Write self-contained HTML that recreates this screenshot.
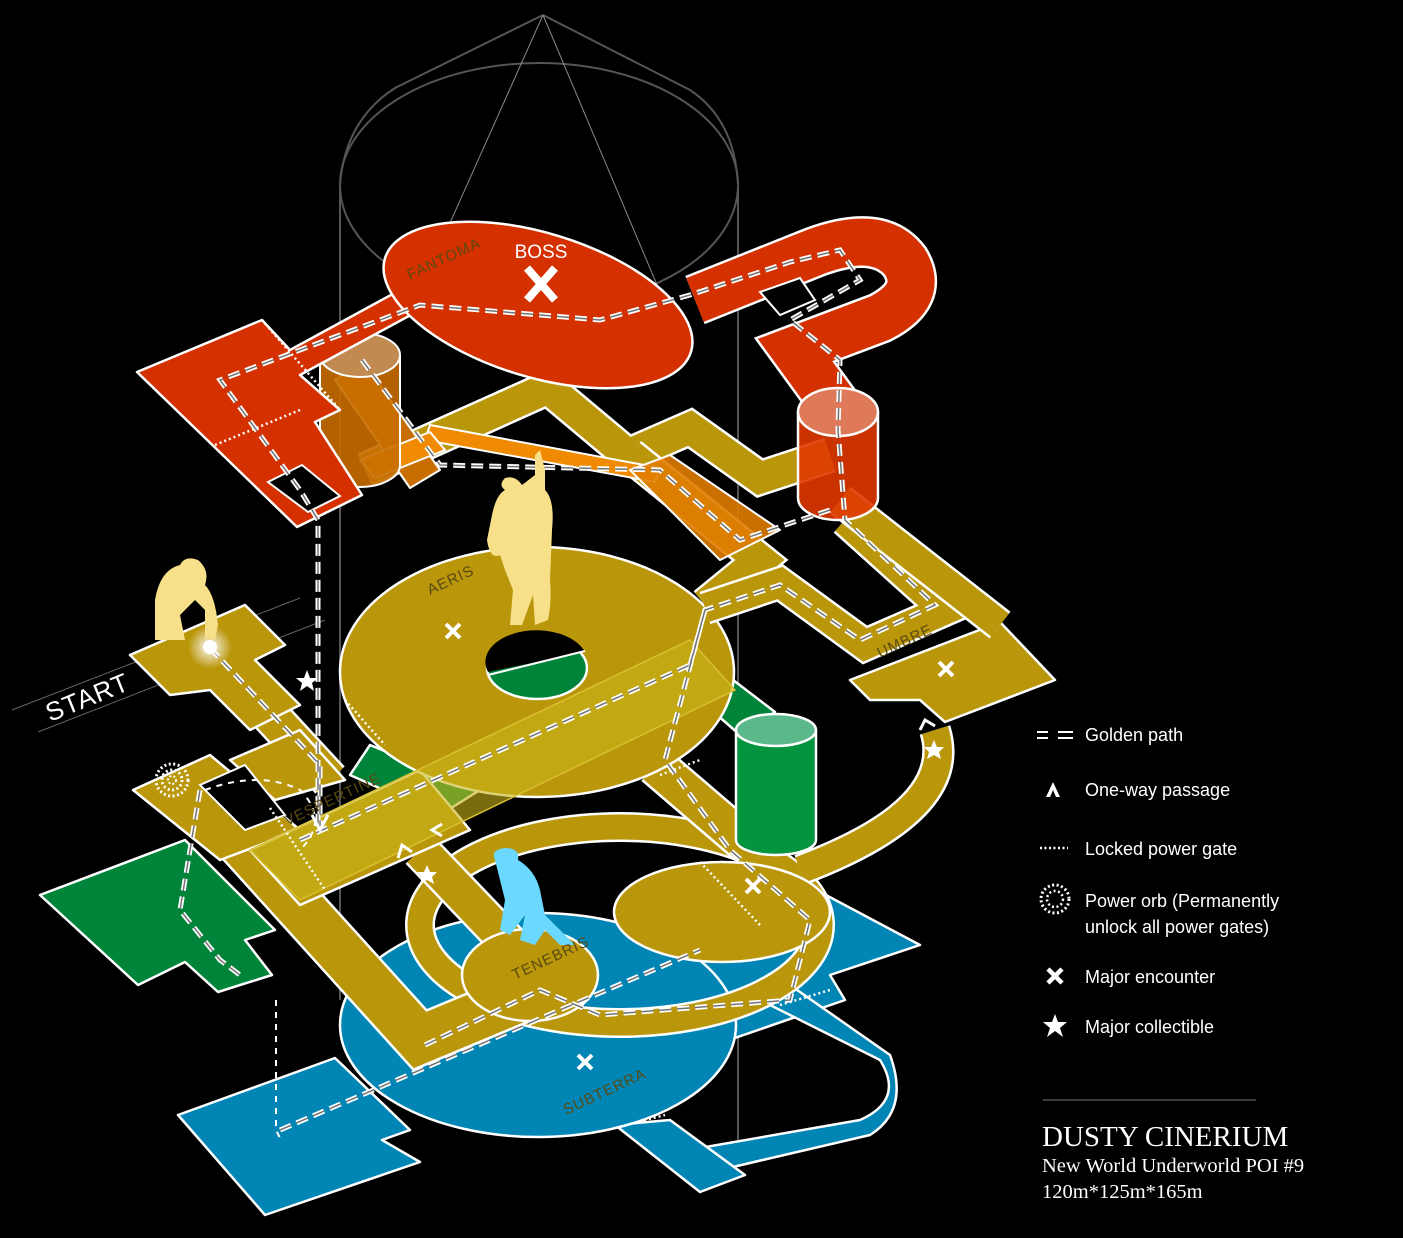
<!DOCTYPE html>
<html><head><meta charset="utf-8"><style>
html,body{margin:0;padding:0;background:#000;}
svg{display:block}
.lbl{font-family:"Liberation Sans","DejaVu Sans",sans-serif;fill:#5a4a10;font-size:15px;letter-spacing:1px}
.leg{font-family:"Liberation Sans","DejaVu Sans",sans-serif;fill:#fff;font-size:18px}
.ttl{font-family:"Liberation Serif",serif;fill:#fff}
</style></head><body>
<svg width="1403" height="1238" viewBox="0 0 1403 1238" xmlns="http://www.w3.org/2000/svg">
<defs>
<radialGradient id="glow"><stop offset="0" stop-color="#fff" stop-opacity="1"/><stop offset="0.4" stop-color="#fff" stop-opacity="0.6"/><stop offset="1" stop-color="#fff" stop-opacity="0"/></radialGradient>
</defs>
<rect width="1403" height="1238" fill="#000"/>

<g stroke="#555" fill="none" stroke-width="2">
<path d="M543,15 L395,88 Q345,120 340,185 L340,1000"/>
<path d="M543,15 L690,90 Q735,120 738,185 L738,1140"/>
<ellipse cx="539" cy="185" rx="199" ry="122"/>
</g>
<g stroke="#888" stroke-width="1" fill="none">
<line x1="543" y1="15" x2="420" y2="290"/>
<line x1="543" y1="15" x2="660" y2="292"/>
</g>

<line x1="12" y1="710" x2="300" y2="598" stroke="#666" stroke-width="1"/>
<line x1="38" y1="732" x2="325" y2="620" stroke="#666" stroke-width="1"/>
<text x="50" y="722" transform="rotate(-22 50 722)" font-family="Liberation Sans,sans-serif" font-size="26" fill="#fff" letter-spacing="1">START</text>

<!-- BLUE -->
<g fill="#0085b5" stroke="#fff" stroke-width="2.5" stroke-linejoin="round">
<path d="M178,1115 L335,1058 L410,1130 L382,1140 L420,1162 L265,1215 Z"/>
<path d="M760,860 L920,945 L830,975 L845,1000 L700,1050 L640,1060 Z"/>
<path d="M760,1000 L880,1060 Q905,1100 860,1120 L700,1148 L720,1170 L870,1135 Q910,1110 890,1055 L790,985 Z"/>
<path d="M615,1125 L700,1192 L745,1175 L670,1120 Z"/>
<ellipse cx="538" cy="1025" rx="198" ry="112"/>
</g>
<g stroke="#fff" stroke-width="2.5" stroke-dasharray="2 3" fill="none">
<line x1="780" y1="1005" x2="830" y2="990"/><line x1="615" y1="1128" x2="665" y2="1115"/>
</g>

<!-- GREEN -->
<g fill="#00843a" stroke="#fff" stroke-width="2.5" stroke-linejoin="round">
<path d="M40,895 L185,840 L275,930 L245,940 L272,975 L218,992 L185,962 L138,985 Z"/>
<path d="M370,745 L480,790 L440,815 L350,775 Z"/>
<path d="M720,670 L775,712 L740,735 L700,700 Z"/>
</g>

<!-- GOLD LOWER -->
<g fill="none" stroke-linejoin="miter" stroke-linecap="butt">
<ellipse cx="620" cy="925" rx="200" ry="98" stroke="#fff" stroke-width="30"/>
<ellipse cx="620" cy="925" rx="200" ry="98" stroke="#b9960a" stroke-width="25"/>
<path d="M800,870 Q960,810 935,730" stroke="#fff" stroke-width="32"/>
<path d="M800,870 Q960,810 935,730" stroke="#b9960a" stroke-width="27"/>
<path d="M185,780 L420,1040 L540,990" stroke="#fff" stroke-width="52"/>
<path d="M185,780 L420,1040 L540,990" stroke="#b9960a" stroke-width="47"/>
<path d="M210,650 L330,780" stroke="#fff" stroke-width="40"/>
<path d="M210,650 L330,780" stroke="#b9960a" stroke-width="35"/>
<path d="M420,850 L525,960" stroke="#fff" stroke-width="40"/>
<path d="M420,850 L525,960" stroke="#b9960a" stroke-width="35"/>
<path d="M655,765 L760,855" stroke="#fff" stroke-width="42"/>
<path d="M655,765 L760,855" stroke="#b9960a" stroke-width="37"/>
</g>
<g fill="#b9960a" stroke="#fff" stroke-width="2.5" stroke-linejoin="round">
<path d="M130,655 L245,605 L285,645 L255,660 L300,705 L250,730 L210,690 L170,695 Z"/>
<path d="M133,790 L210,755 L300,830 L220,860 Z"/>
<path d="M230,760 L300,730 L345,780 L275,800 Z"/>
<path d="M250,850 L420,770 L470,830 L300,905 Z"/>
<ellipse cx="537" cy="672" rx="197" ry="125"/>
<ellipse cx="722" cy="912" rx="108" ry="50"/>
<ellipse cx="530" cy="975" rx="68" ry="46"/>
<path d="M850,680 L1000,622 L1055,680 L945,722 L920,700 L870,700 Z"/>
</g>
<ellipse cx="537" cy="668" rx="50" ry="31" fill="#00843a" stroke="#fff" stroke-width="2.5"/>
<path d="M488,672 A50,31 0 0 1 585,652 Z" fill="#000"/>
<line x1="488" y1="675" x2="585" y2="651" stroke="#fff" stroke-width="2"/>
<path d="M250,850 L690,640 L735,690 L300,900 Z" fill="#c8b418" fill-opacity="0.6" stroke="#d8c030" stroke-width="1.5"/>
<path d="M200,785 L245,765 L285,815 L245,830 Z" fill="#000" stroke="#fff" stroke-width="2"/>

<g stroke="#fff" stroke-width="2.5">
<path d="M736,730 L736,840 A40,15 0 0 0 816,840 L816,730" fill="#03943f"/>
<ellipse cx="776" cy="730" rx="40" ry="16" fill="#5bb88a"/>
</g>

<!-- GOLD UPPER -->
<g fill="none" stroke-linejoin="miter">
<path d="M365,470 L548,388 L628,455 L690,428 L760,478 L830,455" stroke="#fff" stroke-width="36"/>
<path d="M365,470 L548,388 L628,455 L690,428 L760,478 L830,455" stroke="#b9960a" stroke-width="31"/>
<path d="M630,455 L760,560 L705,605" stroke="#fff" stroke-width="36"/>
<path d="M630,455 L760,560 L705,605" stroke="#b9960a" stroke-width="31"/>
<path d="M705,608 L780,583 L865,645 L945,610 L845,520" stroke="#fff" stroke-width="34"/>
<path d="M705,608 L780,583 L865,645 L945,610 L845,520" stroke="#b9960a" stroke-width="29"/>
<path d="M840,500 L1000,625" stroke="#fff" stroke-width="34"/>
<path d="M840,500 L1000,625" stroke="#b9960a" stroke-width="29"/>
</g>

<!-- ORANGE -->
<g stroke="#fff" stroke-width="2" stroke-linejoin="round">
<path d="M362,360 L440,470 L410,488 L335,380 Z" fill="#c86d00"/>
<path d="M430,425 L660,468 L655,482 L425,440 Z" fill="#f08a00"/>
<path d="M630,470 L670,455 L780,530 L720,560 Z" fill="#e07c00" fill-opacity="0.9"/>
<path d="M360,460 L430,432 L445,450 L375,478 Z" fill="#f08a00"/>
<path d="M320,355 L320,465 A40,22 0 0 0 400,465 L400,355" fill="#c86d00" fill-opacity="0.9"/>
<ellipse cx="360" cy="355" rx="40" ry="22" fill="#c08a50"/>
</g>

<!-- RED -->
<g fill="none" stroke-linejoin="miter">
<path d="M695,300 L815,252 Q880,228 905,262 Q925,295 880,318 L795,350 L835,405" stroke="#fff" stroke-width="52"/>
<path d="M695,300 L815,252 Q880,228 905,262 Q925,295 880,318 L795,350 L835,405" stroke="#d43000" stroke-width="47"/>
</g>
<path d="M760,292 L800,278 L815,300 L780,315 Z" fill="#000" stroke="#fff" stroke-width="2"/>
<g fill="#d43000" stroke="#fff" stroke-width="2.5" stroke-linejoin="round">
<path d="M137,372 L262,320 L290,350 L400,290 L420,310 L300,375 L340,410 L315,422 L362,495 L297,527 Z"/>
<ellipse cx="538" cy="305" rx="160" ry="72" transform="rotate(17 538 305)"/>
</g>
<path d="M268,482 L302,465 L340,496 L308,512 Z" fill="#000" stroke="#fff" stroke-width="2"/>
<g stroke="#fff" stroke-width="2.5">
<path d="M798,412 L798,498 A40,22 0 0 0 878,498 L878,412" fill="#e03800" fill-opacity="0.9"/>
<ellipse cx="838" cy="412" rx="40" ry="24" fill="#de7a5a"/>
</g>

<!-- GOLDEN PATH -->
<g fill="none" stroke="#fff" stroke-width="5" stroke-dasharray="12 6">
<path id="gp" d="M210,648 L320,765 L320,830 M300,840 L690,665 M690,665 L705,610 L780,585 L860,640 L935,605 L845,520 L838,430 L840,360 L790,320 L860,280 L840,250 L790,262 L690,295 L600,320 L420,305 L220,380 L300,490 L318,520 L318,830 M200,790 L180,910 L220,960 L240,975 M425,1045 L540,990 L600,1015 L790,1000 L810,920 L730,850 L665,760 L705,610 M280,1130 L700,950 M362,360 L440,465 L660,470 L740,540 L830,510"/>
</g>
<g fill="none" stroke-width="1.5" stroke="#000" stroke-opacity="0.55" stroke-dasharray="12 6">
<use href="#gp"/>
</g>
<g fill="none" stroke="#fff" stroke-width="2" stroke-dasharray="6 6">
<path d="M276,1000 L276,1130 L280,1138"/>
<path d="M205,790 Q260,770 300,790 Q330,820 300,850"/>
</g>

<g stroke="#fff" stroke-width="2.5" stroke-dasharray="2 3" fill="none">
<line x1="215" y1="445" x2="300" y2="410"/>
<line x1="262" y1="320" x2="340" y2="410"/>
<line x1="270" y1="808" x2="325" y2="890"/>
<line x1="345" y1="700" x2="385" y2="745"/>
<line x1="660" y1="775" x2="700" y2="760"/>
<line x1="700" y1="862" x2="760" y2="925"/>
</g>

<g>
<circle cx="172" cy="780" r="16" fill="none" stroke="#fff" stroke-width="3" stroke-dasharray="2 2.5"/>
<circle cx="172" cy="780" r="10" fill="none" stroke="#fff" stroke-width="3" stroke-dasharray="2 2.5"/>
<circle cx="172" cy="780" r="4" fill="none" stroke="#fff" stroke-width="2" stroke-dasharray="2 2"/>
</g>

<circle cx="210" cy="647" r="22" fill="url(#glow)"/>
<circle cx="210" cy="647" r="7" fill="#fff"/>

<g fill="#f8e08a">
<path d="M155,640 L155,600 Q160,570 180,565 Q185,555 198,560 Q210,570 205,585 Q215,595 218,625 L215,640 L205,638 L205,610 L195,600 L180,615 L185,640 Z"/>
<path d="M540,450 L545,470 L545,490 Q555,500 552,530 L550,580 Q552,600 548,620 L535,625 L533,595 L522,625 L510,625 L513,590 L505,570 L500,555 Q490,560 487,540 L492,515 Q496,495 505,490 Q498,485 505,478 Q515,475 522,485 L535,475 L535,455 Z"/>
</g>
<path fill="#6ad8ff" d="M495,860 Q490,850 505,848 Q520,848 518,860 Q535,870 540,890 L545,915 L575,945 L560,945 L545,930 L535,945 L520,940 L525,915 L510,935 L500,930 L505,900 L500,880 Z"/>

<g fill="none" stroke="#fff" stroke-width="3">
<path d="M398,858 L402,845 L412,852"/>
<path d="M442,824 L432,830 L442,836"/>
<path d="M920,730 L925,720 L935,726"/>
<path d="M312,815 L320,830 L328,815"/>
</g>

<g stroke="#fff" stroke-linecap="butt">
<path d="M527,268 L555,300 M555,268 L527,300" stroke-width="8"/>
<path d="M446,624 L460,638 M460,624 L446,638 M939,662 L953,676 M953,662 L939,676 M746,879 L760,893 M760,879 L746,893 M578,1055 L592,1069 M592,1055 L578,1069" stroke-width="4"/>
</g>
<g fill="#fff">
<path d="M307,670 L310,678 L318,678 L312,683 L314,691 L307,686 L300,691 L302,683 L296,678 L304,678 Z"/>
<path d="M427,865 L430,872 L437,872 L432,877 L434,884 L427,880 L420,884 L422,877 L417,872 L424,872 Z"/>
<path d="M934,740 L937,747 L944,747 L939,752 L941,759 L934,755 L927,759 L929,752 L924,747 L931,747 Z"/>
</g>

<text x="541" y="258" text-anchor="middle" font-family="Liberation Sans,sans-serif" font-size="19" fill="#fff">BOSS</text>
<text class="lbl" x="410" y="280" transform="rotate(-25 410 280)">FANTOMA</text>
<text class="lbl" x="430" y="595" transform="rotate(-25 430 595)">AERIS</text>
<text class="lbl" x="287" y="826" transform="rotate(-25 287 826)">VESPERTINE</text>
<text class="lbl" x="515" y="980" transform="rotate(-25 515 980)">TENEBRIS</text>
<text class="lbl" x="566" y="1115" transform="rotate(-25 566 1115)">SUBTERRA</text>
<text class="lbl" x="880" y="658" transform="rotate(-25 880 658)">UMBRE</text>

<g stroke="#fff" stroke-width="2"><line x1="1037" y1="732" x2="1048" y2="732"/><line x1="1037" y1="738" x2="1048" y2="738"/><line x1="1058" y1="732" x2="1073" y2="732"/><line x1="1058" y1="738" x2="1073" y2="738"/></g>
<text class="leg" x="1085" y="741">Golden path</text>
<path d="M1046,797 L1053,782 L1060,797 L1056,797 L1053,790 L1050,797 Z" fill="#fff"/>
<text class="leg" x="1085" y="796">One-way passage</text>
<line x1="1040" y1="848" x2="1068" y2="848" stroke="#fff" stroke-width="2.5" stroke-dasharray="2 2.5"/>
<text class="leg" x="1085" y="855">Locked power gate</text>
<circle cx="1055" cy="899" r="14" fill="none" stroke="#fff" stroke-width="3" stroke-dasharray="2 2.5"/>
<circle cx="1055" cy="899" r="8" fill="none" stroke="#fff" stroke-width="2.5" stroke-dasharray="2 2.5"/>
<text class="leg" x="1085" y="907">Power orb (Permanently</text>
<text class="leg" x="1085" y="933">unlock all power gates)</text>
<path d="M1048,969 L1062,983 M1062,969 L1048,983" stroke="#fff" stroke-width="4.5"/>
<text class="leg" x="1085" y="983">Major encounter</text>
<path d="M1055,1014 L1058,1022 L1067,1022 L1060,1028 L1063,1037 L1055,1031 L1047,1037 L1050,1028 L1043,1022 L1052,1022 Z" fill="#fff"/>
<text class="leg" x="1085" y="1033">Major collectible</text>
<line x1="1043" y1="1100" x2="1256" y2="1100" stroke="#777" stroke-width="1"/>
<text class="ttl" x="1042" y="1146" font-size="29">DUSTY CINERIUM</text>
<text class="ttl" x="1042" y="1172" font-size="20.5">New World Underworld POI #9</text>
<text class="ttl" x="1042" y="1198" font-size="20.5">120m*125m*165m</text>
</svg>
</body></html>
